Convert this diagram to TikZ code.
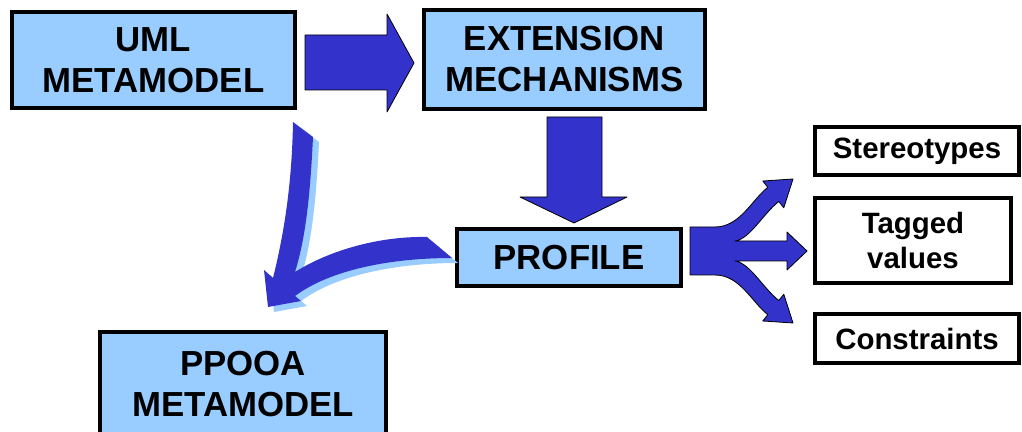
\documentclass[tikz,border=0pt]{standalone}
\usepackage{fontspec}
\setmainfont{Liberation Sans}
\definecolor{boxblue}{HTML}{99CCFF}
\definecolor{arrowblue}{HTML}{3333CC}
\tikzset{
  bigbox/.style={draw=black, line width=2pt, fill=boxblue, inner sep=0pt, align=center,
    font=\fontsize{17.4}{20.5}\selectfont\bfseries},
  smallbox/.style={draw=black, line width=1.75pt, fill=white, inner sep=0pt, align=center,
    font=\fontsize{14.7}{17.5}\selectfont\bfseries},
  blockarrow/.style={fill=arrowblue, draw=black, line width=0.4pt, line join=round},
}
\newcommand{\bendarrow}{(293,122) -- (313,137)
  .. controls (310,200) and (305,240) .. (295,272)
  .. controls (330,250) and (380,236) .. (427,237) -- (452,258)
  .. controls (390,258) and (330,270) .. (295,296) -- (301,301) -- (268,307)
  -- (264,270) -- (273,278) .. controls (285,230) and (292,180) .. (293,122) -- cycle}
\begin{document}
\begin{tikzpicture}[x=0.5pt,y=-0.5pt]
  \useasboundingbox (0,0) rectangle (1022,432);
  \clip (0,0) rectangle (1022,432);
  % boxes
  \node[bigbox, minimum width=141.5pt, minimum height=48pt] (uml) at (153.5,60) {UML\\METAMODEL};
  \node[bigbox, minimum width=140.5pt, minimum height=49.5pt] (ext) at (564.5,59.5) {EXTENSION\\MECHANISMS};
  \node[bigbox, minimum width=112pt, minimum height=28.5pt] (profile) at (569,257.5) {PROFILE};
  \node[bigbox, minimum width=143pt, minimum height=52.5pt] (ppooa) at (243,384.5) {PPOOA\\METAMODEL};
  \node[smallbox, minimum width=102pt, minimum height=24pt] (stereo) at (917,151) {Stereotypes};
  \node[smallbox, minimum width=98pt, minimum height=42.5pt] (tagged) at (913,240.5) {Tagged\\values};
  \node[smallbox, minimum width=102pt, minimum height=24.5pt] (constr) at (917,338.5) {Constraints};
  % block arrows
  \draw[blockarrow] (305,35) -- (387,35) -- (387,14) -- (414,63) -- (387,112) -- (387,90)
    -- (305,90) -- cycle;
  \draw[blockarrow] (547,117) -- (602,117) -- (602,197) -- (627,197) -- (574,223) -- (520,197)
    -- (547,197) -- cycle;
  \begin{scope}[shift={(6,5)}]
    \fill[boxblue] \bendarrow;
  \end{scope}
  \fill[arrowblue] \bendarrow;
  \draw[blockarrow] (690,227) -- (715,227)
    .. controls (740,227) and (752,199.6) .. (767.8,187.3)
    -- (762.8,181) -- (793,179) -- (783.8,207.8) -- (778.8,201.5)
    .. controls (763,213.8) and (750,239) .. (735,241)
    -- (787,241) -- (787,232) -- (807,251) -- (787,270) -- (787,261) -- (735,261)
    .. controls (750,263) and (763,288.2) .. (778.8,300.5)
    -- (783.8,294.2) -- (793,323) -- (762.8,321) -- (767.8,314.7)
    .. controls (752,302.4) and (740,275) .. (715,275)
    -- (690,275) -- cycle;
\end{tikzpicture}
\end{document}
